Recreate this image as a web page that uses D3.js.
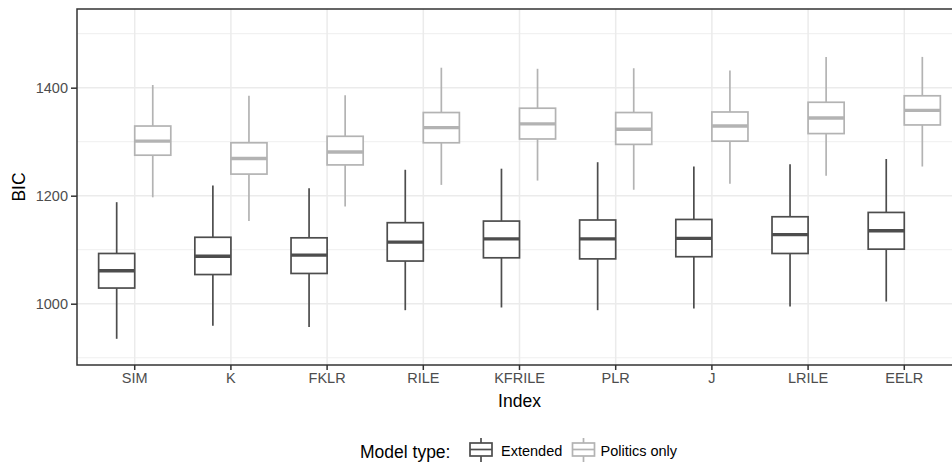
<!DOCTYPE html>
<html>
<head>
<meta charset="utf-8">
<script src="https://cdn.jsdelivr.net/npm/d3@7"></script>
<style>
  html, body { margin: 0; padding: 0; background: #fff; }
  svg { display: block; font-family: "Liberation Sans", Arial, sans-serif; }
</style>
</head>
<body>
<div id="chart"></div>
<script>
// categories on the x axis
const indices = ["SIM", "K", "FKLR", "RILE", "KFRILE", "PLR", "J", "LRILE", "EELR"];
const modelTypes = ["Extended", "Politics only"];

// five-number summaries per index: [lower whisker, q1, median, q3, upper whisker]
const extendedStats = [
  [935, 1029, 1061, 1093, 1188],
  [959, 1054, 1088, 1123, 1219],
  [957, 1056, 1090, 1122, 1214],
  [988, 1079, 1114, 1150, 1248],
  [993, 1085, 1120, 1153, 1250],
  [988, 1083, 1120, 1155, 1262],
  [991, 1087, 1121, 1156, 1254],
  [995, 1093, 1128, 1161, 1258],
  [1004, 1101, 1135, 1169, 1268]
];
const politicsStats = [
  [1197, 1275, 1301, 1329, 1405],
  [1153, 1240, 1269, 1298, 1385],
  [1180, 1257, 1281, 1310, 1386],
  [1220, 1298, 1326, 1354, 1437],
  [1228, 1305, 1333, 1362, 1435],
  [1211, 1295, 1323, 1354, 1436],
  [1222, 1301, 1329, 1355, 1432],
  [1237, 1315, 1344, 1373, 1457],
  [1254, 1331, 1358, 1385, 1457]
];

const majorTicks = [1000, 1200, 1400];
const minorTicks = [900, 1100, 1300, 1500];
const colors = { "Extended": "#4d4d4d", "Politics only": "#b3b3b3" };

const width = 952, height = 464;
const margin = { top: 9, right: -10, bottom: 99, left: 77 };

const svg = d3.select("#chart").append("svg")
  .attr("width", width)
  .attr("height", height);

const x = d3.scaleBand()
  .domain(indices)
  .range([margin.left, width - margin.right])
  .paddingInner(0)
  .paddingOuter(0.1);

const dodge = d3.scaleBand()
  .domain(modelTypes)
  .range([x.step() * 0.125, x.step() * 0.875]);

const y = d3.scaleLinear()
  .domain([886.5, 1545.7])
  .range([height - margin.bottom, margin.top]);

const panelLeft = margin.left, panelRight = width - margin.right;
const panelTop = margin.top, panelBottom = height - margin.bottom;

svg.append("defs").append("clipPath").attr("id", "panel-clip")
  .append("rect")
  .attr("x", panelLeft).attr("y", panelTop)
  .attr("width", panelRight - panelLeft).attr("height", panelBottom - panelTop);

const panel = svg.append("g").attr("clip-path", "url(#panel-clip)");

// gridlines
panel.selectAll(".minor").data(minorTicks).join("line")
  .attr("x1", panelLeft).attr("x2", panelRight)
  .attr("y1", d => y(d)).attr("y2", d => y(d))
  .attr("stroke", "#ebebeb").attr("stroke-width", 0.8);

panel.selectAll(".major").data(majorTicks).join("line")
  .attr("x1", panelLeft).attr("x2", panelRight)
  .attr("y1", d => y(d)).attr("y2", d => y(d))
  .attr("stroke", "#ebebeb").attr("stroke-width", 1.5);

panel.selectAll(".vgrid").data(indices).join("line")
  .attr("x1", d => x(d) + x.bandwidth() / 2).attr("x2", d => x(d) + x.bandwidth() / 2)
  .attr("y1", panelTop).attr("y2", panelBottom)
  .attr("stroke", "#ebebeb").attr("stroke-width", 1.5);

// boxes
const boxData = [];
indices.forEach((idx, i) => {
  boxData.push({ idx, type: "Extended", s: extendedStats[i] });
  boxData.push({ idx, type: "Politics only", s: politicsStats[i] });
});

const boxes = panel.selectAll(".box").data(boxData).join("g")
  .attr("transform", d => `translate(${x(d.idx) + dodge(d.type)},0)`);

const bw = dodge.bandwidth();

boxes.append("line")
  .attr("x1", bw / 2).attr("x2", bw / 2)
  .attr("y1", d => y(d.s[4])).attr("y2", d => y(d.s[3]))
  .attr("stroke", d => colors[d.type]).attr("stroke-width", 1.7);

boxes.append("line")
  .attr("x1", bw / 2).attr("x2", bw / 2)
  .attr("y1", d => y(d.s[1])).attr("y2", d => y(d.s[0]))
  .attr("stroke", d => colors[d.type]).attr("stroke-width", 1.7);

boxes.append("rect")
  .attr("x", 0).attr("width", bw)
  .attr("y", d => y(d.s[3])).attr("height", d => y(d.s[1]) - y(d.s[3]))
  .attr("fill", "#fff")
  .attr("stroke", d => colors[d.type]).attr("stroke-width", 1.7);

boxes.append("line")
  .attr("x1", 0).attr("x2", bw)
  .attr("y1", d => y(d.s[2])).attr("y2", d => y(d.s[2]))
  .attr("stroke", d => colors[d.type]).attr("stroke-width", 3.4);

// panel border
svg.append("rect")
  .attr("x", panelLeft).attr("y", panelTop)
  .attr("width", panelRight - panelLeft).attr("height", panelBottom - panelTop)
  .attr("fill", "none").attr("stroke", "#333333").attr("stroke-width", 1.5);

// axes
const yAxis = svg.append("g")
  .attr("transform", `translate(${panelLeft},0)`)
  .call(d3.axisLeft(y).tickValues(majorTicks).tickSize(6).tickPadding(3).tickFormat(d3.format("d")));
yAxis.select(".domain").remove();
yAxis.selectAll(".tick line").attr("stroke", "#333333").attr("stroke-width", 1.5);
yAxis.selectAll(".tick text")
  .attr("fill", "#4d4d4d").style("font-size", "14.5px").attr("dy", "0.36em");

const xAxis = svg.append("g")
  .attr("transform", `translate(0,${panelBottom})`)
  .call(d3.axisBottom(x).tickSize(5).tickPadding(3));
xAxis.select(".domain").remove();
xAxis.selectAll(".tick line").attr("stroke", "#333333").attr("stroke-width", 1.5);
xAxis.selectAll(".tick text")
  .attr("fill", "#4d4d4d").style("font-size", "14.5px").attr("dy", "0.71em");

// axis titles
svg.append("text")
  .attr("x", (panelLeft + panelRight) / 2).attr("y", 407)
  .attr("text-anchor", "middle")
  .style("font-size", "17.5px").attr("fill", "#000")
  .text("Index");

svg.append("text")
  .attr("transform", `translate(25,${(panelTop + panelBottom) / 2}) rotate(-90)`)
  .attr("text-anchor", "middle")
  .style("font-size", "17.5px").attr("fill", "#000")
  .text("BIC");

// legend
const legend = svg.append("g");
legend.append("text")
  .attr("x", 360).attr("y", 458)
  .style("font-size", "17.5px").attr("fill", "#000")
  .text("Model type:");

const keyX = [470, 572.5];
const labelX = [501, 600.5];
modelTypes.forEach((t, i) => {
  const k = legend.append("g").attr("transform", `translate(${keyX[i]},0)`);
  k.append("line").attr("x1", 11).attr("x2", 11).attr("y1", 438).attr("y2", 462)
    .attr("stroke", colors[t]).attr("stroke-width", 1.7);
  k.append("rect").attr("x", 0).attr("width", 22).attr("y", 443).attr("height", 13)
    .attr("fill", "#fff").attr("stroke", colors[t]).attr("stroke-width", 1.7);
  k.append("line").attr("x1", 0).attr("x2", 22).attr("y1", 449.5).attr("y2", 449.5)
    .attr("stroke", colors[t]).attr("stroke-width", 1.7);
  legend.append("text")
    .attr("x", labelX[i]).attr("y", 455.5)
    .style("font-size", "14.5px").attr("fill", "#000")
    .text(t);
});
</script>
</body>
</html>
